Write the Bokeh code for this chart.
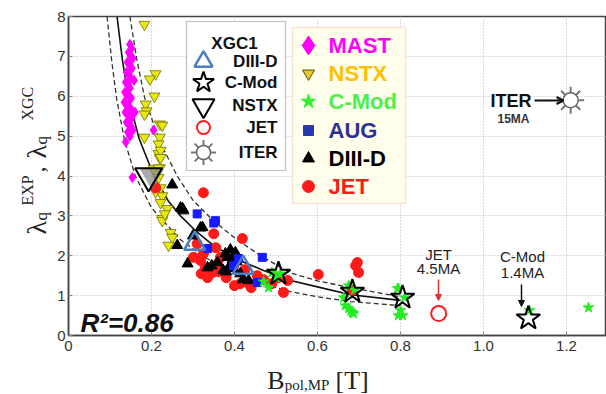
import math
from bokeh.plotting import figure
from bokeh.layouts import row, column
from bokeh.models import Range1d, FixedTicker, Label, BoxAnnotation, Arrow, NormalHead, OpenHead
from bokeh.embed import file_html
from bokeh.resources import INLINE

# ---------------- data ----------------
x_ticks = [0, 0.2, 0.4, 0.6, 0.8, 1.0, 1.2]
x_tick_labels = ["0", "0.2", "0.4", "0.6", "0.8", "1.0", "1.2"]
y_ticks = [0, 1, 2, 3, 4, 5, 6, 7, 8]

# fit curve and its bounds
fit_b = [0.117, 0.130, 0.145, 0.170, 0.206, 0.240, 0.270, 0.310, 0.349, 0.400, 0.470, 0.535, 0.600, 0.680, 0.800]
fit_l = [8.00, 6.90, 5.94, 4.94, 4.00, 3.38, 3.00, 2.59, 2.26, 1.94, 1.63, 1.38, 1.22, 1.02, 0.88]
up_b = [0.148, 0.165, 0.184, 0.220, 0.262, 0.300, 0.349, 0.400, 0.463, 0.535, 0.600, 0.680, 0.800]
up_l = [8.00, 6.90, 5.94, 4.86, 4.00, 3.39, 2.88, 2.45, 2.00, 1.57, 1.37, 1.20, 0.97]
lo_b = [0.093, 0.104, 0.116, 0.135, 0.161, 0.200, 0.270, 0.330, 0.390, 0.460, 0.535, 0.600, 0.680, 0.800]
lo_l = [8.00, 6.90, 5.94, 4.90, 4.00, 3.20, 2.40, 1.95, 1.64, 1.32, 1.10, 0.97, 0.85, 0.75]

# experimental data
mast_b = [0.148, 0.152, 0.145, 0.150, 0.155, 0.142, 0.147, 0.153, 0.140, 0.145, 0.150, 0.138, 0.143, 0.148,
          0.136, 0.141, 0.146, 0.151, 0.135, 0.139, 0.144, 0.149, 0.137, 0.142, 0.147, 0.152, 0.140, 0.145,
          0.150, 0.143, 0.148, 0.155, 0.158, 0.205, 0.154, 0.160, 0.138]
mast_l = [7.30, 7.20, 7.10, 7.00, 6.95, 6.85, 6.80, 6.70, 6.60, 6.55, 6.45, 6.35, 6.30, 6.20,
          6.10, 6.05, 6.00, 5.95, 5.85, 5.80, 5.75, 5.70, 5.60, 5.55, 5.50, 5.45, 5.35, 5.30,
          5.25, 5.10, 5.00, 5.15, 6.40, 5.15, 3.96, 5.60, 4.85]
nstx_b = [0.183, 0.210, 0.196, 0.207, 0.186, 0.188, 0.183, 0.220, 0.226, 0.220, 0.183, 0.217, 0.220, 0.205,
          0.220, 0.217, 0.222, 0.222, 0.217, 0.217, 0.222, 0.226, 0.222, 0.238, 0.226, 0.226, 0.246, 0.250,
          0.241, 0.232, 0.210]
nstx_l = [7.80, 6.56, 6.43, 6.00, 5.80, 5.63, 5.55, 5.30, 5.27, 4.97, 4.97, 4.56, 4.45, 4.18,
          4.20, 4.80, 4.64, 4.46, 4.20, 3.96, 3.70, 3.50, 3.33, 3.18, 2.93, 2.88, 2.58, 2.46,
          2.26, 3.05, 3.60]
cmod_b = [0.795, 0.795, 0.805, 0.667, 0.680, 0.687, 1.253, 1.111, 0.675, 0.482, 0.490, 0.510, 0.663, 0.675,
          0.684, 0.793, 0.800, 0.500, 0.470, 0.690, 0.810]
cmod_l = [1.18, 0.50, 0.50, 0.75, 0.62, 0.55, 0.70, 0.63, 1.25, 1.20, 1.58, 1.55, 0.95, 0.68,
          0.58, 1.18, 0.63, 1.45, 1.35, 1.15, 0.95]
aug_b = [0.310, 0.354, 0.350, 0.335, 0.455, 0.467, 0.398, 0.410]
aug_l = [3.05, 2.88, 2.82, 2.18, 1.33, 1.96, 1.75, 1.93]
d3d_b = [0.250, 0.275, 0.262, 0.287, 0.277, 0.323, 0.335, 0.359, 0.383, 0.402, 0.373, 0.378, 0.386, 0.407,
         0.398, 0.434, 0.414, 0.270, 0.318, 0.390, 0.395, 0.405, 0.380, 0.345, 0.300, 0.420]
d3d_l = [3.78, 3.18, 2.26, 1.80, 3.13, 2.71, 1.70, 1.83, 1.96, 2.08, 1.63, 2.05, 1.70, 1.96,
         1.68, 1.38, 1.55, 3.20, 2.70, 2.15, 1.90, 1.85, 1.60, 1.75, 2.50, 1.40]
jet_b = [0.325, 0.210, 0.318, 0.342, 0.347, 0.366, 0.350, 0.398, 0.419, 0.414, 0.434, 0.455, 0.518, 0.528,
         0.301, 0.325, 0.359, 0.602, 0.696, 0.699, 0.692, 0.684, 0.310, 0.330, 0.380, 0.440, 0.470, 0.400,
         0.355, 0.425, 0.490, 0.505, 0.362, 0.320, 0.335]
jet_l = [3.58, 3.70, 1.88, 1.63, 1.58, 1.96, 2.55, 1.75, 2.43, 1.30, 1.30, 1.50, 1.08, 1.38,
         1.96, 2.05, 1.80, 1.53, 1.83, 1.58, 1.75, 1.13, 2.30, 1.70, 1.45, 1.20, 1.40, 1.25,
         2.20, 1.65, 1.30, 1.45, 1.60, 1.55, 1.45]

# XGC1 simulations
xgc_d3d_b = [0.304, 0.421]
xgc_d3d_l = [2.30, 1.70]
xgc_cmod_b = [0.506, 0.684, 0.805, 1.108]
xgc_cmod_l = [1.55, 1.10, 0.95, 0.43]
xgc_nstx_b = [0.193]
xgc_nstx_l = [4.00]
xgc_jet_b = [0.892]
xgc_jet_l = [0.55]
xgc_iter_b = [1.21]
xgc_iter_l = [5.90]

exp_names = ["MAST", "NSTX", "C-Mod", "AUG", "DIII-D", "JET"]
exp_text_colors = ["#ff00ff", "#ffc000", "#4cf04c", "#2e3192", "#000000", "#ff1a1a"]
xgc_names = ["DIII-D", "C-Mod", "NSTX", "JET", "ITER"]

# ---------------- layout (picture pixels) ----------------
PAGE_W, PAGE_H = 606, 394
YT_W = 54            # strip for the y title
XT_H = 36            # strip for the x title
FRAME_L, FRAME_T, FRAME_B = 68, 16, 335
W = PAGE_W - YT_W
H = PAGE_H - XT_H
ML, MR, MT, MB = FRAME_L - YT_W, 0, FRAME_T, H - FRAME_B
PX_PER_X = 415.0
XMAX = (W - ML - MR) / PX_PER_X
PX_PER_Y = (FRAME_B - FRAME_T) / 8.0


def dx(px):  # picture pixel -> data x
    return (px - FRAME_L) / PX_PER_X


def dy(py):  # picture pixel -> data y
    return (FRAME_B - py) / PX_PER_Y


fig = figure(width=W, height=H, x_range=Range1d(0, XMAX), y_range=Range1d(0, 8),
             output_backend="svg", toolbar_location=None,
             min_border_left=ML, min_border_right=MR, min_border_top=MT, min_border_bottom=MB)
fig.background_fill_color = "white"
fig.border_fill_color = "white"
fig.outline_line_color = "#444444"
fig.outline_line_width = 1.5

fig.xaxis.ticker = FixedTicker(ticks=x_ticks)
fig.yaxis.ticker = FixedTicker(ticks=y_ticks)
fig.xaxis.major_label_overrides = {t: lab for t, lab in zip(x_ticks, x_tick_labels)}
fig.axis.major_label_text_font = "Liberation Sans"
fig.axis.major_label_text_font_size = "15px"
fig.axis.major_label_text_color = "#333333"
fig.axis.axis_line_color = "#444444"
fig.axis.axis_line_width = 1.5
fig.axis.major_tick_in = 4
fig.axis.major_tick_out = 0
fig.axis.major_tick_line_color = "#888888"
fig.axis.minor_tick_line_color = None
fig.xaxis.major_label_standoff = 5
fig.yaxis.major_label_standoff = 3
fig.grid.grid_line_color = "#b8b8b8"
fig.grid.grid_line_dash = "1 2"
fig.grid.grid_line_width = 1

# curves
fig.line(up_b, up_l, line_color="#333333", line_width=1.3, line_dash="5 3")
fig.line(lo_b, lo_l, line_color="#333333", line_width=1.3, line_dash="5 3")
fig.line(fit_b, fit_l, line_color="#111111", line_width=1.6)

# experimental points
fig.scatter(mast_b, mast_l, marker="diamond", size=10, fill_color="#ff00ff", line_color="#ff00ff")
fig.scatter(nstx_b, nstx_l, marker="inverted_triangle", size=11, fill_color="#e8e810", line_color="#707000", line_width=0.8)
fig.scatter(jet_b, jet_l, marker="circle", size=10, fill_color="#ff1a1a", line_color="#ff1a1a")
fig.scatter(d3d_b, d3d_l, marker="triangle", size=11, fill_color="#000000", line_color="#000000")
fig.scatter(aug_b, aug_l, marker="square", size=8, fill_color="#1a1aff", line_color="#1a1aff")
fig.scatter(cmod_b, cmod_l, marker="star", size=11, fill_color="#22ee22", line_color="#22ee22")

# XGC1 points
fig.scatter(xgc_d3d_b, xgc_d3d_l, marker="triangle", size=21, fill_color=None, line_color="#4a7fc1", line_width=2.5)
fig.scatter(xgc_cmod_b, xgc_cmod_l, marker="star", size=25, fill_color=None, line_color="#000000", line_width=2)
fig.scatter([b + 0.008 for b in xgc_nstx_b], xgc_nstx_l, marker="inverted_triangle", size=24,
            fill_color="#888888", fill_alpha=0.7, line_color=None)
fig.scatter(xgc_nstx_b, xgc_nstx_l, marker="inverted_triangle", size=27, fill_color=None, line_color="#000000", line_width=2)
fig.scatter(xgc_jet_b, xgc_jet_l, marker="circle", size=15, fill_color=None, line_color="#ff1a1a", line_width=2)
fig.scatter(xgc_iter_b, xgc_iter_l, marker="asterisk", size=27, line_color="#777777", line_width=2)
fig.scatter(xgc_iter_b, xgc_iter_l, marker="circle", size=15, fill_color="white", line_color="#666666", line_width=1.5)

# ---------------- legends ----------------
fig.add_layout(BoxAnnotation(left=dx(186), right=dx(285), top=dy(21), bottom=dy(170),
                             fill_color="white", fill_alpha=1.0, line_color="#333333", line_width=1.2))
fig.add_layout(BoxAnnotation(left=dx(292), right=dx(405), top=dy(27), bottom=dy(203),
                             fill_color="#ffffec", fill_alpha=1.0, line_color="#f5a08c", line_width=1.5))

fig.add_layout(Label(x=dx(234), y=dy(43), text="XGC1", text_align="center", text_baseline="alphabetic",
                     text_font="Liberation Sans", text_font_size="17px", text_font_style="bold",
                     text_color="#111111", level="overlay"))
xgc_rows = [61, 82, 105, 127, 152]
for name, rr in zip(xgc_names, xgc_rows):
    fig.add_layout(Label(x=dx(277), y=dy(rr), text=name, text_align="right", text_baseline="middle",
                         text_font="Liberation Sans", text_font_size="17px", text_font_style="bold",
                         text_color="#111111", level="overlay"))
mx = dx(203)
fig.scatter([mx], [dy(xgc_rows[0])], marker="triangle", size=18, fill_color=None, line_color="#4a7fc1",
            line_width=2.5, level="overlay")
fig.scatter([mx], [dy(xgc_rows[1])], marker="star", size=22, fill_color=None, line_color="#000000",
            line_width=2, level="overlay")
fig.scatter([mx], [dy(xgc_rows[2])], marker="inverted_triangle", size=22, fill_color=None, line_color="#000000",
            line_width=2, level="overlay")
fig.scatter([mx], [dy(xgc_rows[3])], marker="circle", size=13, fill_color=None, line_color="#ff1a1a",
            line_width=2, level="overlay")
fig.scatter([mx], [dy(xgc_rows[4])], marker="asterisk", size=25, line_color="#777777", line_width=2, level="overlay")
fig.scatter([mx], [dy(xgc_rows[4])], marker="circle", size=14, fill_color="white", line_color="#666666",
            line_width=1.5, level="overlay")

exp_rows = [45, 73, 101, 130, 158, 186]
ex = dx(308)
fig.scatter([ex], [dy(exp_rows[0])], marker="diamond", size=19, fill_color="#ff00ff", line_color="#ff00ff", level="overlay")
fig.scatter([ex], [dy(exp_rows[1])], marker="inverted_triangle", size=12, fill_color="#e8c830", line_color="#555500",
            line_width=1, level="overlay")
fig.scatter([ex], [dy(exp_rows[2])], marker="star", size=15, fill_color="#33ee33", line_color="#33ee33", level="overlay")
fig.scatter([ex], [dy(exp_rows[3])], marker="square", size=10, fill_color="#2838b0", line_color="#2838b0", level="overlay")
fig.scatter([ex], [dy(exp_rows[4])], marker="triangle", size=12, fill_color="#000000", line_color="#000000", level="overlay")
fig.scatter([ex], [dy(exp_rows[5])], marker="circle", size=12, fill_color="#ff1a1a", line_color="#ff1a1a", level="overlay")
for name, col, rr in zip(exp_names, exp_text_colors, exp_rows):
    fig.add_layout(Label(x=dx(328), y=dy(rr), text=name, text_align="left", text_baseline="middle",
                         text_font="Liberation Sans", text_font_size="22px", text_font_style="bold",
                         text_color=col, level="overlay"))

# ---------------- annotations ----------------
fig.add_layout(Label(x=dx(80), y=dy(322), text="R²=0.86", text_align="left", text_baseline="alphabetic",
                     text_font="Liberation Sans", text_font_size="26px", text_font_style="bold italic",
                     text_color="#111111"))

fig.add_layout(Label(x=dx(490), y=dy(100), text="ITER", text_align="left", text_baseline="middle",
                     text_font="Liberation Sans", text_font_size="18px", text_font_style="bold",
                     text_color="#111111"))
fig.add_layout(Label(x=dx(497), y=dy(118), text="15MA", text_align="left", text_baseline="middle",
                     text_font="Liberation Sans", text_font_size="12px", text_font_style="bold",
                     text_color="#333333"))
fig.add_layout(Arrow(end=OpenHead(size=7, line_width=2, line_color="#111111"),
                     x_start=dx(534), y_start=dy(100), x_end=dx(563), y_end=dy(100),
                     line_color="#111111", line_width=2))

for txt, yy in (("JET", 254), ("4.5MA", 268)):
    fig.add_layout(Label(x=dx(438), y=dy(yy), text=txt, text_align="center", text_baseline="middle",
                         text_font="Liberation Sans", text_font_size="15px", text_color="#222222"))
fig.add_layout(Arrow(end=NormalHead(size=6, fill_color="#e03030", line_color="#e03030"),
                     x_start=dx(438), y_start=dy(279), x_end=dx(438), y_end=dy(300),
                     line_color="#e03030", line_width=1.5))
for txt, yy in (("C-Mod", 256), ("1.4MA", 272)):
    fig.add_layout(Label(x=dx(522), y=dy(yy), text=txt, text_align="center", text_baseline="middle",
                         text_font="Liberation Sans", text_font_size="15px", text_color="#222222"))
fig.add_layout(Arrow(end=NormalHead(size=6, fill_color="#111111", line_color="#111111"),
                     x_start=dx(521), y_start=dy(284), x_end=dx(521), y_end=dy(306),
                     line_color="#111111", line_width=1.5))

# ---------------- axis-title strips (their frames cover the whole strip, units = picture pixels) ----------------
SERIF = "Liberation Serif"


def strip(width, height, x0, y0):
    s = figure(width=width, height=height, x_range=Range1d(x0, x0 + width),
               y_range=Range1d(y0 + height, y0), output_backend="svg", toolbar_location=None,
               x_axis_type=None, y_axis_type=None, min_border=0,
               min_border_left=0, min_border_right=0, min_border_top=0, min_border_bottom=0)
    s.outline_line_color = None
    s.background_fill_color = "white"
    s.border_fill_color = "white"
    return s


def tlabel(s, txt, px, py, fs, angle=0.0):
    s.add_layout(Label(x=px, y=py, text=txt, angle=angle, text_align="left", text_baseline="alphabetic",
                       text_font=SERIF, text_font_size=fs, text_color="#222222"))


ystrip = strip(YT_W, PAGE_H, 0, 0)
rot = math.pi / 2
tlabel(ystrip, "λ", 36, 234, "28px", rot)
tlabel(ystrip, "q", 41, 220, "17px", rot)
tlabel(ystrip, "EXP", 27, 205, "16px", rot)
tlabel(ystrip, ",", 36, 172, "24px", rot)
tlabel(ystrip, "λ", 36, 158, "28px", rot)
tlabel(ystrip, "q", 41, 144, "17px", rot)
tlabel(ystrip, "XGC", 27, 120, "16px", rot)

xstrip = strip(W, XT_H, YT_W, H)
tlabel(xstrip, "B", 258, 380, "26px")
tlabel(xstrip, "pol,MP", 276, 384, "15px")
tlabel(xstrip, "[T]", 328, 380, "26px")

p = row(ystrip, column(fig, xstrip, spacing=0), spacing=0)

open("out.html", "w").write(file_html(p, INLINE))
